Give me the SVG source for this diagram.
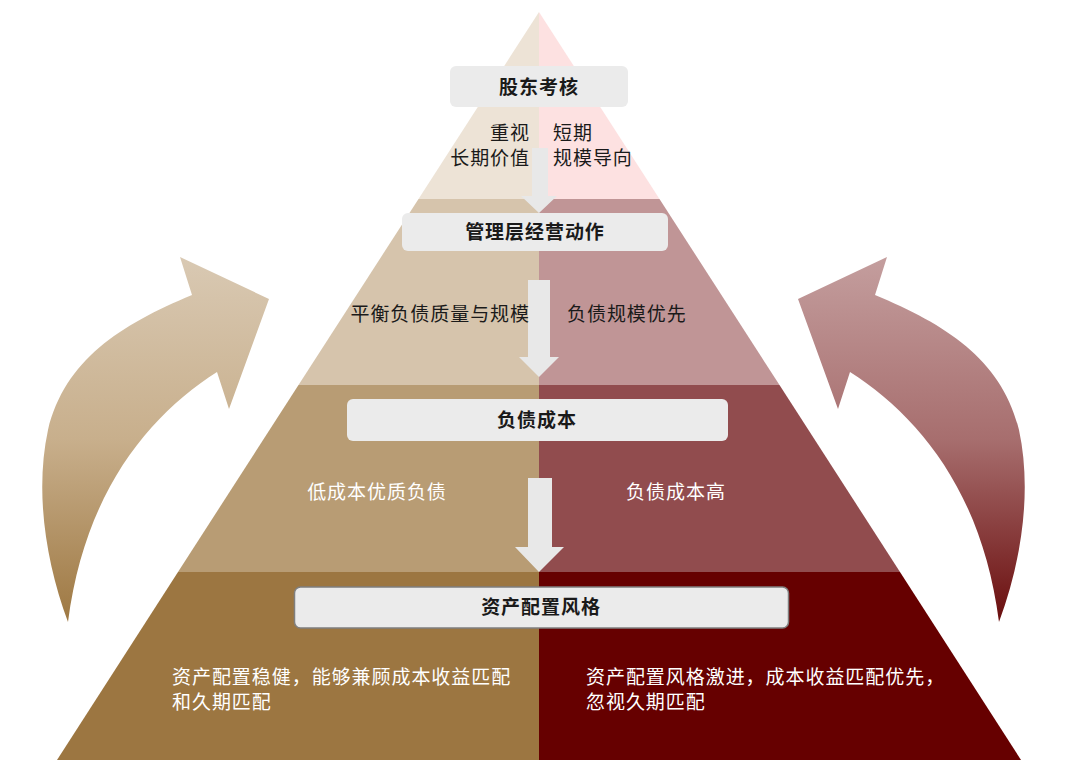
<svg xmlns="http://www.w3.org/2000/svg" width="1080" height="773" viewBox="0 0 1080 773">
<defs>
<linearGradient id="gL" x1="0" y1="257" x2="0" y2="622" gradientUnits="userSpaceOnUse">
<stop offset="0" stop-color="#D9C9B3"/>
<stop offset="0.5" stop-color="#C8AF8C"/>
<stop offset="1" stop-color="#9E7842"/>
</linearGradient>
<linearGradient id="gR" x1="0" y1="257" x2="0" y2="622" gradientUnits="userSpaceOnUse">
<stop offset="0" stop-color="#C49E9E"/>
<stop offset="0.5" stop-color="#A76E6E"/>
<stop offset="1" stop-color="#6A0D0D"/>
</linearGradient>
<style>
.t{font-family:"Noto Sans CJK SC","Noto Sans",sans-serif;font-size:19px;letter-spacing:0.95px;fill:#1a1a1a}
.b{font-weight:700;text-anchor:middle}
.w{fill:#ffffff}
.box{fill:#EBEBEB}
.ga{fill:#E8E8E8}
</style>
</defs>
<rect width="1080" height="773" fill="#ffffff"/>
<g id="pyramid">
<polygon points="539,12 539,199 418.5,199" fill="#EDE3D6"/>
<polygon points="539,12 659.5,199 539,199" fill="#FDE1E1"/>
<polygon points="418.5,199 539,199 539,385 298.5,385" fill="#D6C4AC"/>
<polygon points="539,199 659.5,199 779.5,385 539,385" fill="#C09596"/>
<polygon points="298.5,385 539,385 539,572 178,572" fill="#B89C74"/>
<polygon points="539,385 779.5,385 900,572 539,572" fill="#914C4E"/>
<polygon points="178,572 539,572 539,760 57,760" fill="#9C7641"/>
<polygon points="539,572 900,572 1021,760 539,760" fill="#660000"/>
</g>
<g id="connectors">
<path id="curve-left" fill="url(#gL)" d="M68,622 C45,560 35,490 48,430 C65,360 120,325 192,295 L180,257 L269,299 L229,409 L217,372 C150,415 85,490 68,622 Z"/>
<path id="curve-right" fill="url(#gR)" transform="translate(1067,0) scale(-1,1)" d="M68,622 C45,560 35,490 48,430 C65,360 120,325 192,295 L180,257 L269,299 L229,409 L217,372 C150,415 85,490 68,622 Z"/>
<polygon class="ga" points="532,148 548,148 548,196 557,196 539,213 521,196 532,196"/>
<polygon class="ga" points="528,280 550,280 550,357 559,357 539,377 519,357 528,357"/>
<polygon class="ga" points="528,478 552,478 552,547 564,547 539,572 515,547 528,547"/>
</g>
<g id="node-shareholder">
<rect class="box" x="450" y="66" width="178" height="41" rx="6"/>
<text class="t b" x="539" y="94">股东考核</text>
</g>
<g id="text-tier1">
<text class="t" x="530" y="140" text-anchor="end">重视</text>
<text class="t" x="530" y="165" text-anchor="end">长期价值</text>
<text class="t" x="553" y="140">短期</text>
<text class="t" x="553" y="165">规模导向</text>
</g>
<g id="node-management">
<rect class="box" x="402" y="213" width="266" height="38" rx="6"/>
<text class="t b" x="535" y="239">管理层经营动作</text>
</g>
<g id="text-tier2">
<text class="t" x="530" y="321" text-anchor="end">平衡负债质量与规模</text>
<text class="t" x="567" y="321">负债规模优先</text>
</g>
<g id="node-cost">
<rect class="box" x="347" y="399" width="381" height="42" rx="6"/>
<text class="t b" x="537" y="427">负债成本</text>
</g>
<g id="text-tier3">
<text class="t w" x="377" y="499" text-anchor="middle">低成本优质负债</text>
<text class="t w" x="676" y="499" text-anchor="middle">负债成本高</text>
</g>
<g id="node-asset">
<rect class="box" x="294.5" y="587" width="494" height="41" rx="6" stroke="#7F7F7F" stroke-width="1.5"/>
<text class="t b" x="541" y="614">资产配置风格</text>
</g>
<g id="text-tier4">
<text class="t w" x="172" y="684">资产配置稳健，能够兼顾成本收益匹配</text>
<text class="t w" x="172" y="709">和久期匹配</text>
<text class="t w" x="586" y="684">资产配置风格激进，成本收益匹配优先，</text>
<text class="t w" x="586" y="709">忽视久期匹配</text>
</g>
</svg>
